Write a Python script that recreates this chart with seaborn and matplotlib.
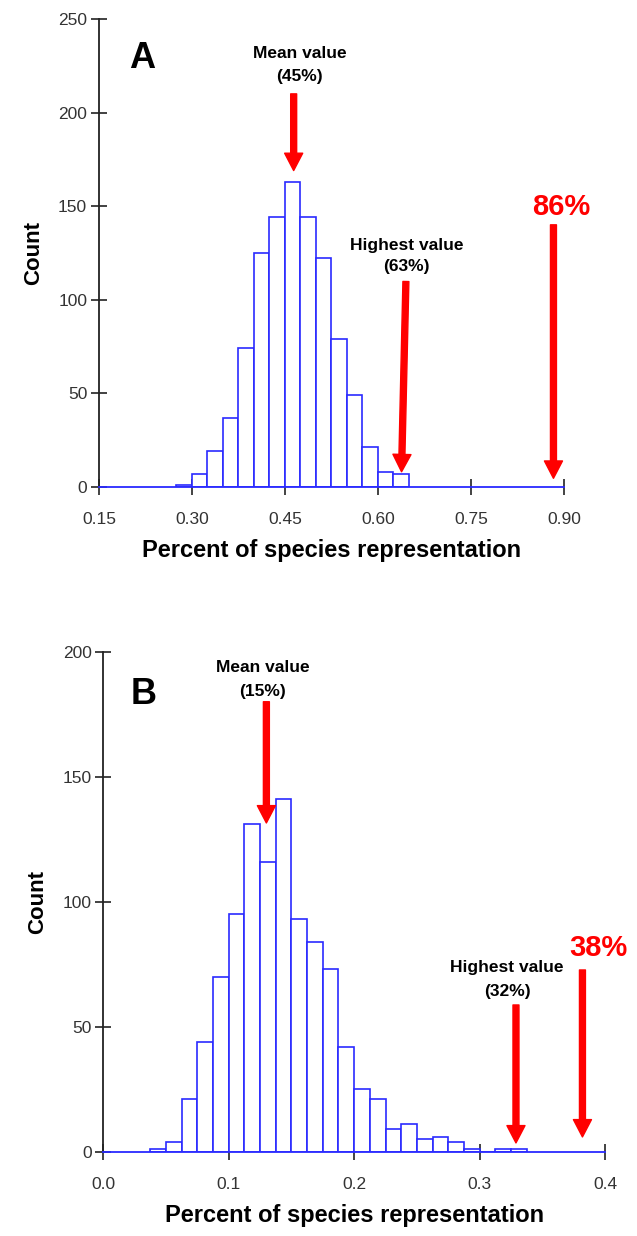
import numpy as np
import pandas as pd
import matplotlib
matplotlib.use("Agg")
import matplotlib.pyplot as plt
import seaborn as sns

# ---------------- data ----------------
# Panel A
a_bin_start = 0.275
a_bin_width = 0.025
a_counts = [1, 7, 19, 37, 74, 125, 144, 163, 144, 122, 79, 49, 21, 8, 7]
a_xticks = [0.15, 0.30, 0.45, 0.60, 0.75, 0.90]
a_xticklabels = ["0.15", "0.30", "0.45", "0.60", "0.75", "0.90"]
a_yticks = [0, 50, 100, 150, 200, 250]
a_mean_label = ["Mean value", "(45%)"]
a_high_label = ["Highest value", "(63%)"]
a_obs_label = "86%"

# Panel B
b_bin_start = 0.0375
b_bin_width = 0.0125
b_counts = [1, 4, 21, 44, 70, 95, 131, 116, 141, 93, 84, 73, 42, 25, 21, 9, 11,
            5, 6, 4, 1, 0, 1, 1]
b_xticks = [0.0, 0.1, 0.2, 0.3, 0.4]
b_xticklabels = ["0.0", "0.1", "0.2", "0.3", "0.4"]
b_yticks = [0, 50, 100, 150, 200]
b_mean_label = ["Mean value", "(15%)"]
b_high_label = ["Highest value", "(32%)"]
b_obs_label = "38%"

xlabel = "Percent of species representation"
ylabel = "Count"

# ---------------- style ----------------
sns.set_style("ticks")
plt.rcParams["font.family"] = ["Liberation Sans", "DejaVu Sans"]
plt.rcParams["text.color"] = "black"
plt.rcParams["axes.labelcolor"] = "black"

BLUE = "#2a2aff"
RED = "#ff0000"

fig = plt.figure(figsize=(6.37, 12.36), dpi=100)
axA = fig.add_axes([0.1554, 0.6062, 0.7300, 0.3784])
axB = fig.add_axes([0.1622, 0.0682, 0.7876, 0.4045])


def draw_hist(ax, start, width, counts):
    n = len(counts)
    edges = [round(start + width * i, 5) for i in range(n + 1)]
    df = pd.DataFrame({"x": [e + width / 2 for e in edges[:-1]],
                       "w": [float(c) for c in counts]})
    sns.histplot(data=df, x="x", weights="w", bins=edges, ax=ax,
                 color="white", edgecolor=BLUE, linewidth=1.2, alpha=1.0)


def style_axes(ax, xlim, ylim, xticks, xticklabels, yticks):
    ax.set_xlim(*xlim)
    ax.set_ylim(*ylim)
    ax.set_xticks(xticks)
    ax.set_xticklabels(xticklabels)
    ax.set_yticks(yticks)
    sns.despine(ax=ax)
    ax.spines["bottom"].set_color(BLUE)
    ax.spines["bottom"].set_linewidth(1.3)
    ax.spines["left"].set_color("#222222")
    ax.spines["left"].set_linewidth(1.3)
    ax.tick_params(axis="both", direction="inout", length=11, width=1.2,
                   color="#222222", labelsize=12.5, labelcolor="#333333")
    ax.tick_params(axis="x", pad=13)
    ax.tick_params(axis="y", pad=3)
    ax.set_xlabel(xlabel, fontsize=17, fontweight="bold", labelpad=8)
    ax.set_ylabel(ylabel, fontsize=16, fontweight="bold", labelpad=10)
    ax.patch.set_alpha(0)


def arrow(ax, top, tip):
    ax.annotate("", xy=tip, xytext=top,
                arrowprops=dict(facecolor=RED, edgecolor=RED, width=4.3,
                                headwidth=13, headlength=12.5, shrink=0))


# ---------------- Panel A ----------------
draw_hist(axA, a_bin_start, a_bin_width, a_counts)
style_axes(axA, (0.15, 0.90), (0, 250), a_xticks, a_xticklabels, a_yticks)
axA.text(0.219, 229, "A", fontsize=26, fontweight="bold", ha="center", va="center")
axA.text(0.474, 231.5, a_mean_label[0], fontsize=12.5, fontweight="bold", ha="center", va="center")
axA.text(0.474, 219.4, a_mean_label[1], fontsize=12.5, fontweight="bold", ha="center", va="center")
arrow(axA, (0.464, 210), (0.464, 169))
axA.text(0.646, 129, a_high_label[0], fontsize=12.5, fontweight="bold", ha="center", va="center")
axA.text(0.646, 117.9, a_high_label[1], fontsize=12.5, fontweight="bold", ha="center", va="center")
arrow(axA, (0.645, 109.7), (0.638, 8))
axA.text(0.896, 149.6, a_obs_label, fontsize=21, fontweight="bold", color=RED, ha="center", va="center")
arrow(axA, (0.883, 140), (0.883, 4.5))

# ---------------- Panel B ----------------
draw_hist(axB, b_bin_start, b_bin_width, b_counts)
style_axes(axB, (0.0, 0.4), (0, 200), b_xticks, b_xticklabels, b_yticks)
axB.text(0.032, 182.7, "B", fontsize=26, fontweight="bold", ha="center", va="center")
axB.text(0.127, 193.5, b_mean_label[0], fontsize=12.5, fontweight="bold", ha="center", va="center")
axB.text(0.127, 184, b_mean_label[1], fontsize=12.5, fontweight="bold", ha="center", va="center")
arrow(axB, (0.130, 180), (0.130, 131.5))
axB.text(0.322, 73.5, b_high_label[0], fontsize=12.5, fontweight="bold", ha="center", va="center")
axB.text(0.322, 64, b_high_label[1], fontsize=12.5, fontweight="bold", ha="center", va="center")
arrow(axB, (0.329, 58.7), (0.329, 3.5))
axB.text(0.395, 81.5, b_obs_label, fontsize=21, fontweight="bold", color=RED, ha="center", va="center")
arrow(axB, (0.382, 72.7), (0.382, 5.9))

fig.savefig("out.png", dpi=100)
